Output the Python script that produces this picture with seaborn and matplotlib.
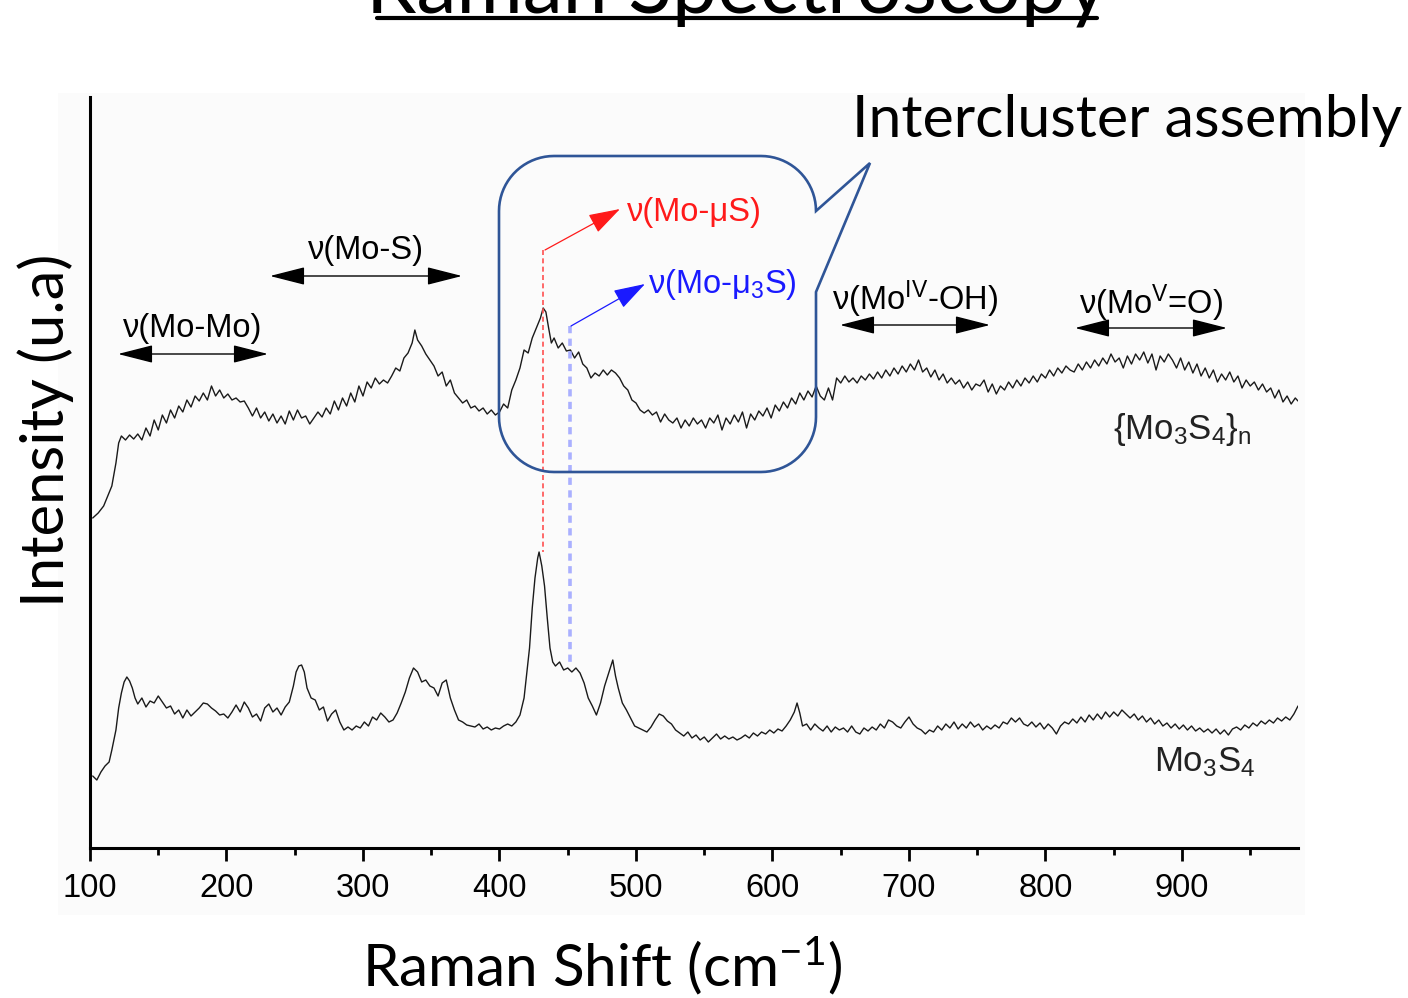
import numpy as np
import pandas as pd
import matplotlib
matplotlib.use("Agg")
import matplotlib.pyplot as plt
import seaborn as sns
from matplotlib.path import Path
from matplotlib.patches import PathPatch, Rectangle
from matplotlib.lines import Line2D

# ---------------- data ----------------
cluster_x = [102,106,110,113,116,119,121,123,126,129,132,135,138,141,144,147,150,153,156,159,
             162,165,168,171,174,177,180,183,186,189,192,195,198,201,204,207,210,213,216,219,
             222,225,228,231,234,237,240,243,246,249,252,255,258,261,264,267,270,273,276,279,
             282,285,288,291,294,297,300,303,306,309,312,315,318,321,324,327,330,333,336,338,
             340,343,346,349,352,355,358,361,364,367,370,373,376,379,382,385,388,391,394,397,
             400,403,406,409,412,415,418,421,424,427,430,432,434,436,438,440,443,446,449,452,
             455,458,461,464,467,470,473,476,479,482,485,488,491,494,497,500,503,506,509,512,
             515,518,521,524,527,530,533,536,539,542,545,548,551,554,557,560,563,566,569,572,
             575,578,581,584,587,590,593,596,599,602,605,608,611,614,617,620,623,626,629,632,
             635,638,641,644,647,650,653,656,659,662,665,668,671,674,677,680,683,686,689,692,
             695,698,701,704,707,710,713,716,719,722,725,728,731,734,737,740,743,746,749,752,
             755,758,761,764,767,770,773,776,779,782,785,788,791,794,797,800,803,806,809,812,
             815,818,821,824,827,830,833,836,839,842,845,848,851,854,857,860,863,866,869,872,
             875,878,881,884,887,890,893,896,899,902,905,908,911,914,917,920,923,926,929,932,
             935,938,941,944,947,950,953,956,959,962,965,968,971,974,977,980,983,985]
cluster_y = [330,335,342,352,362,385,405,412,408,413,409,414,408,420,412,428,418,433,425,438,
             430,442,436,448,441,452,447,455,448,462,452,458,450,454,448,450,446,447,440,432,
             440,430,436,427,434,425,432,424,437,428,438,430,432,424,430,436,431,440,434,447,
             438,450,442,455,446,462,452,466,460,470,464,468,465,472,480,477,490,495,505,518,
             508,502,494,488,482,472,476,462,468,455,450,445,448,440,442,437,440,434,438,433,
             436,444,440,458,468,480,498,495,510,520,530,540,536,520,505,510,500,505,497,498,
             490,496,484,480,470,475,472,478,473,478,475,470,462,458,448,445,438,435,438,433,
             436,426,434,428,425,430,420,428,422,430,424,428,420,430,425,433,418,430,424,433,
             426,436,420,434,428,437,432,440,430,443,437,446,440,450,444,455,448,457,451,462,
             452,448,460,448,470,465,472,466,470,465,472,468,474,469,476,470,478,472,480,474,
             482,476,484,478,488,476,480,471,478,468,474,465,470,464,468,460,466,458,464,462,
             468,456,464,454,462,458,466,460,468,462,470,465,472,466,474,470,478,472,480,475,
             482,478,476,484,478,486,480,488,482,490,484,494,486,490,480,492,484,494,488,496,
             485,494,478,492,486,494,488,480,490,478,486,475,484,472,480,470,478,466,474,468,
             476,466,472,460,468,462,466,458,464,456,460,450,458,446,452,444,450,447]

mono_x = [102,105,108,111,114,116,119,121,123,125,127,129,131,133,135,138,141,144,147,150,
          153,156,159,162,165,168,171,174,177,180,183,186,189,192,195,198,201,204,207,210,
          213,216,219,222,225,228,231,234,237,240,243,246,249,251,253,255,257,259,262,265,
          268,271,274,277,280,283,286,289,292,295,298,301,304,307,310,313,316,319,322,325,
          328,331,334,337,340,343,346,349,352,355,358,361,364,367,370,373,376,379,382,385,
          388,391,394,397,400,403,406,409,412,415,418,420,422,424,426,428,429,431,433,435,
          437,439,441,444,447,450,453,456,459,462,465,468,471,474,477,480,483,485,487,490,
          493,496,499,502,505,508,511,514,517,520,523,526,529,532,535,538,541,544,547,550,
          553,556,559,562,565,568,571,574,577,580,583,586,589,592,595,598,601,604,607,610,
          613,616,618,620,622,625,628,631,634,637,640,643,646,649,652,655,658,661,664,667,
          670,673,676,679,682,685,688,691,694,697,700,703,706,709,712,715,718,721,724,727,
          730,733,736,739,742,745,748,751,754,757,760,763,766,769,772,775,778,781,784,787,
          790,793,796,799,802,805,808,811,814,817,820,823,826,829,832,835,838,841,844,847,
          850,853,856,859,862,865,868,871,874,877,880,883,886,889,892,895,898,901,904,907,
          910,913,916,919,922,925,928,931,934,937,940,943,946,949,952,955,958,961,964,967,
          970,973,976,979,982,985]
mono_y = [72,68,76,82,86,98,118,140,155,166,171,167,160,150,144,150,141,147,145,152,
          146,140,142,134,138,130,138,132,136,140,145,144,140,137,133,134,130,136,143,136,
          146,140,131,134,127,140,144,136,140,133,141,146,162,176,182,183,176,160,150,148,
          138,141,127,134,138,126,118,121,118,122,120,126,122,131,128,135,131,126,128,135,
          145,156,170,180,176,166,168,162,160,152,165,168,150,138,128,126,123,122,121,124,
          119,121,118,120,119,122,124,122,126,133,150,175,200,240,270,290,296,282,262,230,
          200,186,182,186,178,180,176,180,175,165,150,142,133,145,162,175,188,172,160,145,
          138,130,122,120,118,116,121,128,134,132,127,124,118,115,112,116,110,113,108,111,
          106,110,114,109,112,109,111,108,110,113,110,115,112,116,114,118,115,119,117,122,
          128,136,145,135,122,124,118,124,120,117,122,116,121,118,120,116,122,116,114,120,
          117,121,118,124,120,128,126,122,120,126,131,124,120,118,114,118,116,122,118,124,
          120,126,119,124,120,126,121,124,118,122,119,123,120,126,124,130,126,130,124,122,
          126,121,125,119,124,120,114,122,126,124,129,125,131,126,133,128,134,129,136,131,
          136,132,138,134,130,134,128,132,126,130,124,128,122,125,120,124,119,123,118,122,
          117,120,116,119,115,119,114,118,113,119,121,118,123,120,125,122,127,124,128,125,
          130,127,131,128,134,142]

series_names = ["{Mo3S4}n", "Mo3S4"]
tick_values = [100, 200, 300, 400, 500, 600, 700, 800, 900]

# ---------------- style ----------------
sns.set_theme(style="ticks")
plt.rcParams["font.family"] = ["Liberation Sans", "DejaVu Sans"]
plt.rcParams["mathtext.fontset"] = "custom"
plt.rcParams["mathtext.rm"] = "Liberation Sans"
plt.rcParams["mathtext.it"] = "Liberation Sans:italic"
plt.rcParams["mathtext.default"] = "regular"

W, H = 1408, 998
fig = plt.figure(figsize=(W / 100, H / 100), dpi=100)
fig.patch.set_facecolor("white")

def fx(px):
    return px / W

def fy(py):
    return 1 - py / H

# faint plot-area backdrop (behind everything)
fig.patches.append(Rectangle((fx(58), fy(915)), fx(1305) - fx(58), fy(93) - fy(915),
                             transform=fig.transFigure, facecolor="#fbfbfb",
                             edgecolor="none", zorder=-10))

ax = fig.add_axes([fx(90), fy(848), fx(1298) - fx(90), fy(97) - fy(848)])
ax.patch.set_alpha(0)
ax.set_zorder(1)

df = pd.concat([
    pd.DataFrame({"shift": cluster_x, "intensity": cluster_y, "sample": series_names[0]}),
    pd.DataFrame({"shift": mono_x, "intensity": mono_y, "sample": series_names[1]}),
])
sns.lineplot(data=df, x="shift", y="intensity", units="sample", estimator=None,
             sort=False, color="#1a1a1a", linewidth=1.0, ax=ax)

ax.set_xlim(100, 985)
ax.set_ylim(0, 751)
ax.set_xticks(tick_values)
ax.set_xticks([150, 250, 350, 450, 550, 650, 750, 850, 950], minor=True)
ax.set_yticks([])
ax.set_xlabel("")
ax.set_ylabel("")
for s in ["top", "right"]:
    ax.spines[s].set_visible(False)
for s in ["left", "bottom"]:
    ax.spines[s].set_linewidth(2.2)
    ax.spines[s].set_color("black")
ax.tick_params(axis="x", which="major", length=9, width=2, direction="out",
               labelsize=23.5, pad=9, colors="black")
ax.tick_params(axis="x", which="minor", length=5, width=2, direction="out", colors="black")

def dx(px):
    return 100 + (px - 90) / 1.365

def dy(py):
    return 848 - py

LAB = 23.5

# double-headed range arrows with labels
ranges = [
    ("ν(Mo-Mo)", 118, 268, 354, 329),
    ("ν(Mo-S)", 270, 462, 276, 251),
    ("ν(Mo$^{IV}$-OH)", 840, 990, 325, 299),
    ("ν(Mo$^{V}$=O)", 1075, 1227, 328, 303),
]
for lab, x0, x1, ya, yt in ranges:
    ax.annotate("", xy=(dx(x1), dy(ya)), xytext=(dx(x0), dy(ya)),
                arrowprops=dict(arrowstyle="<|-|>,head_length=1.1,head_width=0.28",
                                mutation_scale=20, color="black", lw=1.0,
                                shrinkA=0, shrinkB=0))
    ax.text(dx((x0 + x1) / 2), dy(yt), lab, ha="center", va="center",
            fontsize=LAB, color="black")

# peak markers
ax.plot([dx(543), dx(543)], [dy(250), dy(552)], color="#ff5050", lw=1.2,
        ls=(0, (3, 2)))
ax.plot([dx(570), dx(570)], [dy(326), dy(665)], color="#aab0ff", lw=2.6,
        ls=(0, (2, 1.5)))
ax.annotate("", xy=(dx(620), dy(209)), xytext=(dx(545), dy(250)),
            arrowprops=dict(arrowstyle="-|>,head_length=1.1,head_width=0.35",
                            mutation_scale=18, color="#ff1a1a", lw=0.9,
                            shrinkA=0, shrinkB=0))
ax.annotate("", xy=(dx(645), dy(284)), xytext=(dx(571), dy(326)),
            arrowprops=dict(arrowstyle="-|>,head_length=1.1,head_width=0.35",
                            mutation_scale=18, color="#1a1aff", lw=0.9,
                            shrinkA=0, shrinkB=0))
ax.text(dx(627), dy(212), "ν(Mo-μS)", ha="left", va="center", fontsize=LAB,
        color="#ff1a1a")
ax.text(dx(648), dy(284), "ν(Mo-μ$_3$S)", ha="left", va="center", fontsize=LAB,
        color="#1a1aff")

# sample labels
ax.text(dx(1182), dy(430), "{Mo$_3$S$_4$}$_n$", ha="center", va="center",
        fontsize=25, color="#222222")
ax.text(dx(1205), dy(762), "Mo$_3$S$_4$", ha="center", va="center",
        fontsize=25, color="#222222")

# callout box (pixel geometry)
L, R, T, B, r = 499, 816, 156, 472, 55
def arc(cx, cy, a0, a1, n=20):
    t = np.linspace(np.radians(a0), np.radians(a1), n)
    return [(cx + r * np.cos(t_), cy - r * np.sin(t_)) for t_ in t]
pts = [(L + r, T), (R - r, T)]
pts += arc(R - r, T + r, 90, 0)
pts += [(870, 163), (R, 292), (R, B - r)]
pts += arc(R - r, B - r, 0, -90)
pts += [(L + r, B)]
pts += arc(L + r, B - r, -90, -180)
pts += [(L, T + r)]
pts += arc(L + r, T + r, 180, 90)
verts = [(fx(p[0]), fy(p[1])) for p in pts]
codes = [Path.MOVETO] + [Path.LINETO] * (len(verts) - 2) + [Path.CLOSEPOLY]
fig.patches.append(PathPatch(Path(verts, codes), transform=fig.transFigure,
                             facecolor="none", edgecolor="#2f5597", lw=1.9, zorder=5))

# slide texts
slide_font = ["Lato", "DejaVu Sans"]
fig.text(fx(852), fy(137), "Intercluster assembly", ha="left", va="baseline",
         fontsize=42.5, family=slide_font, color="black")
fig.text(fx(737), fy(13), "Raman Spectroscopy", ha="center", va="baseline",
         fontsize=58, family=slide_font, color="black")
fig.lines.append(Line2D([fx(377), fx(1097)], [fy(18), fy(18)], transform=fig.transFigure,
                        color="black", lw=3))
fig.text(fx(46), fy(430), "Intensity (u.a)", ha="center", va="center", rotation=90,
         fontsize=43, family=slide_font, color="black")
fig.text(fx(602), fy(966), "Raman Shift (cm$^{-1}$)", ha="center", va="center",
         fontsize=42, family=slide_font, color="black")

fig.savefig("out.png", dpi=100)
